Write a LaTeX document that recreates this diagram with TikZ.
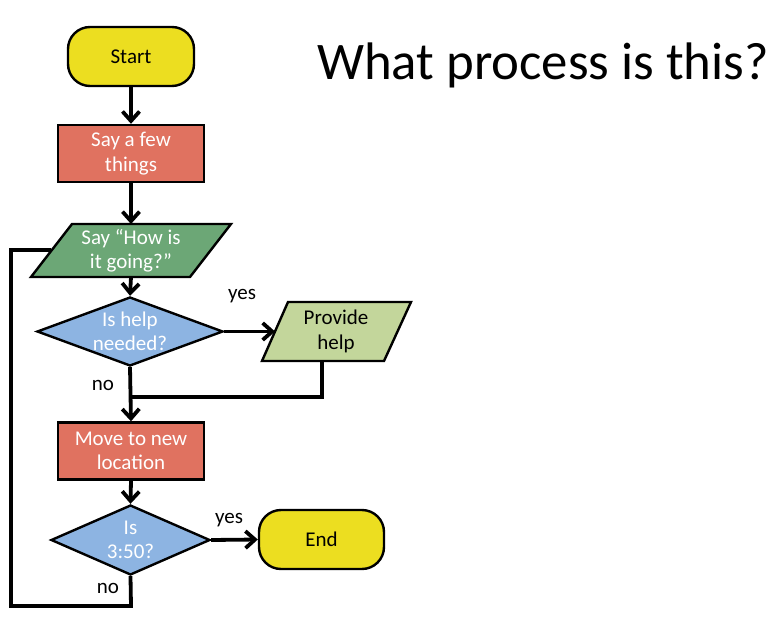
\documentclass[tikz,border=0pt]{standalone}
\usepackage{fontspec}
\setmainfont{Carlito}
\usetikzlibrary{shapes.geometric,arrows.meta}
\definecolor{termY}{RGB}{236,222,32}
\definecolor{procR}{RGB}{224,114,96}
\definecolor{ioG}{RGB}{108,167,118}
\definecolor{decB}{RGB}{141,180,226}
\definecolor{ioLG}{RGB}{195,214,155}
\begin{document}
\begin{tikzpicture}[x=1pt,y=-1pt,
  every node/.style={font=\fontsize{21}{24.5}\selectfont, align=center},
  border/.style={draw=black, line width=2.4pt},
  terminal/.style={border, fill=termY, rectangle, rounded corners=22pt, minimum width=126pt, minimum height=59pt},
  process/.style={border, fill=procR, rectangle, minimum width=146pt, minimum height=57pt, text=white},
  decision/.style={border, fill=decB, diamond, aspect=2.7, inner sep=0pt, text=white},
  iobox/.style={border, line join=miter},
  lbl/.style={inner sep=0pt},
  conn/.style={line width=3.8pt, line join=miter},
  arr/.style={conn, -{Straight Barb[length=9.5pt,width=17pt]}}
]
\useasboundingbox (0,0) rectangle (776,620);

% title
\node[font=\fontsize{52.8}{60}\selectfont, anchor=base] (title) at (543,80) {What process is this?};

% terminals and processes
\node[terminal] (start) at (131,56.5) {Start};
\node[process] (say1) at (131,153.5) {Say a few\\things};

% parallelogram 1
\path[iobox, fill=ioG] (72,224) -- (231,224) -- (190,277) -- (31,277) -- cycle;
\node[lbl, text=white] (say2) at (131,250.5) {Say “How is\\it going?”};
\coordinate (say2top) at (131,224);
\coordinate (say2bot) at (131,277);
\coordinate (say2left) at (51,250);

% decision 1
\node[decision, minimum width=186pt, minimum height=69pt] (help) at (130,331.5) {Is help\\needed?};

% parallelogram 2
\path[iobox, fill=ioLG] (288,302) -- (411,302) -- (384,361) -- (262,361) -- cycle;
\node[lbl] (provide) at (336,331.5) {Provide\\help};
\coordinate (provleft) at (275,331.5);
\coordinate (provbot) at (322,361);
\coordinate (join) at (131,397);

\node[process] (move) at (131,451) {Move to new\\location};

\node[decision, minimum width=159pt, minimum height=70pt] (time) at (130.5,540) {Is\\3:50?};

\node[terminal, minimum width=125pt] (end) at (321.5,539.5) {End};

\coordinate (loopA) at (131,606);
\coordinate (loopB) at (11,606);
\coordinate (loopC) at (11,250);

% connectors
\draw[arr] (start.south) -- (say1.north);
\draw[arr] (say1.south) -- (say2top);
\draw[arr] (say2bot) -- (help.north);
\draw[arr] (help.east) -- (provleft);
\draw[conn] (provbot) |- (join);
\draw[arr] (help.south) -- (move.north);
\draw[arr] (move.south) -- (time.north);
\draw[arr] (time.east) -- (end.west);
\draw[conn] (time.south) -- (loopA) -- (loopB) -- (loopC) -- (say2left);

% labels
\node[lbl] (yes1) at (242,296) {yes};
\node[lbl] (no1) at (103,385) {no};
\node[lbl] (yes2) at (229,520) {yes};
\node[lbl] (no2) at (108,588) {no};
\end{tikzpicture}
\end{document}
